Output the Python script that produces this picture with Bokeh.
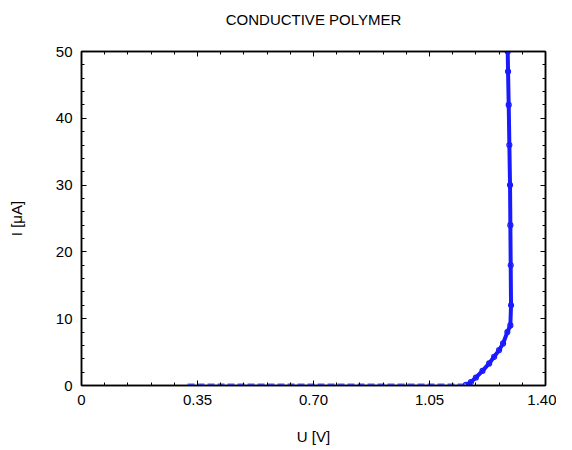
from bokeh.plotting import figure
from bokeh.models import FixedTicker, LinearAxis, Range1d, Title
from bokeh.embed import file_html
from bokeh.resources import INLINE

# Data
U_base = [0.32, 0.40, 0.50, 0.60, 0.70, 0.80, 0.90, 1.00, 1.10, 1.16]
I_base = [0.15, 0.15, 0.15, 0.15, 0.15, 0.15, 0.15, 0.15, 0.15, 0.15]
U_rise = [1.16, 1.175, 1.19, 1.21, 1.23, 1.245, 1.26, 1.272, 1.285, 1.294,
          1.296, 1.295, 1.294, 1.293, 1.291, 1.289, 1.287, 1.286]
I_rise = [0.1, 0.5, 1.2, 2.2, 3.3, 4.3, 5.3, 6.3, 8.0, 9.0,
          12, 18, 24, 30, 36, 42, 47, 50]

x_ticks = [0, 0.35, 0.70, 1.05, 1.40]
x_tick_labels = ["0", "0.35", "0.70", "1.05", "1.40"]
y_ticks = [0, 10, 20, 30, 40, 50]
TITLE = "CONDUCTIVE POLYMER"

FONT = "Liberation Sans"

p = figure(width=556, height=434, output_backend="svg", toolbar_location=None,
           x_range=Range1d(0, 1.4), y_range=Range1d(0, 50),
           frame_width=464, frame_height=334)
p.min_border_left = 81
p.min_border_right = 11
p.min_border_top = 51
p.min_border_bottom = 49
p.xgrid.visible = False
p.ygrid.visible = False
p.outline_line_color = "black"
p.outline_line_width = 1.5
p.background_fill_color = "white"
p.border_fill_color = "white"

x_minor = [i * 0.07 for i in range(21)]
y_minor = [i * 2 for i in range(26)]
xt = FixedTicker(ticks=x_ticks, minor_ticks=x_minor)
yt = FixedTicker(ticks=y_ticks, minor_ticks=y_minor)

def style(ax, show_labels):
    ax.major_tick_in = 5
    ax.major_tick_out = 0
    ax.minor_tick_in = 3
    ax.minor_tick_out = 0
    ax.axis_line_color = "black"
    ax.axis_line_width = 1.5
    ax.major_tick_line_color = "black"
    ax.minor_tick_line_color = "black"
    ax.major_label_text_font = FONT
    ax.major_label_text_font_size = "15px"
    ax.major_label_text_color = "black"
    ax.axis_label_text_font = FONT
    ax.axis_label_text_font_size = "15px"
    ax.axis_label_text_font_style = "normal"
    ax.axis_label_text_color = "black"
    if not show_labels:
        ax.major_label_text_alpha = 0
        ax.major_label_text_font_size = "1px"

p.xaxis.ticker = xt
p.yaxis.ticker = yt
p.xaxis.major_label_overrides = {t: l for t, l in zip(x_ticks, x_tick_labels)}
style(p.xaxis[0], True)
style(p.yaxis[0], True)
p.xaxis.axis_label = "U [V]"
p.yaxis.axis_label = "I [\u03bcA]"
p.xaxis.axis_label_standoff = 20
p.yaxis.axis_label_standoff = 28
p.xaxis.major_label_standoff = 9
p.yaxis.major_label_standoff = 9

top = LinearAxis(ticker=FixedTicker(ticks=x_ticks, minor_ticks=x_minor))
right = LinearAxis(ticker=FixedTicker(ticks=y_ticks, minor_ticks=y_minor))
style(top, False)
style(right, False)
p.add_layout(top, "above")
p.add_layout(right, "right")

# blank spacer title between the frame and the real title
spacer = Title(text=" ", text_font=FONT, text_font_size="20px", standoff=0)
p.add_layout(spacer, "above")

p.title.text = TITLE
p.title.align = "center"
p.title.text_font = FONT
p.title.text_font_size = "15px"
p.title.text_font_style = "normal"
p.title.text_color = "black"
p.title.standoff = 0

# baseline part
p.line(U_base, I_base, line_color="#4d4dff", line_width=2, line_dash="7 3")
# rising part
p.line(U_rise, I_rise, line_color="#1a1aff", line_width=4)
p.scatter(U_rise, I_rise, marker="circle", size=5, fill_color=None,
          line_color="#1a1aff", line_width=1.2)

open("out.html", "w").write(file_html(p, INLINE))
